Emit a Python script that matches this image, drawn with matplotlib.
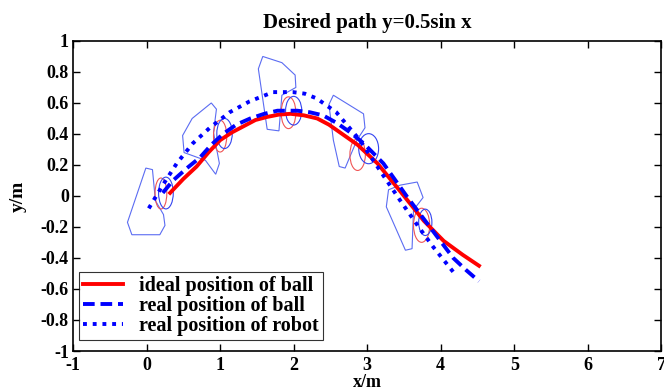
"""
Desired path y=0.5sin x : ball and robot positions
"""

### Import modules
import numpy as np
import matplotlib
matplotlib.use('Agg')
import matplotlib.pyplot as plt
from matplotlib.patches import Polygon, Ellipse

### Data (metres)
x_ideal = [0.32, 0.50, 0.68, 0.84, 1.00, 1.16, 1.32, 1.48, 1.64, 1.80, 1.96,
           2.14, 2.32, 2.48, 2.63, 2.87, 3.14, 3.45, 3.77, 4.04, 4.30, 4.52]
y_ideal = [0.02, 0.11, 0.19, 0.28, 0.36, 0.41, 0.45, 0.49, 0.51, 0.525, 0.53,
           0.52, 0.50, 0.46, 0.41, 0.33, 0.21, 0.03, -0.16, -0.29, -0.38, -0.45]

x_ball = [0.22, 0.36, 0.55, 0.73, 0.88, 1.04, 1.22, 1.41, 1.60, 1.78, 2.05,
          2.22, 2.40, 2.59, 2.77, 2.95, 3.22, 3.55, 3.90, 4.17, 4.35, 4.52]
y_ball = [0.02, 0.10, 0.18, 0.25, 0.33, 0.40, 0.46, 0.50, 0.53, 0.55, 0.55,
          0.54, 0.52, 0.47, 0.41, 0.34, 0.21, -0.01, -0.23, -0.40, -0.48, -0.55]

x_robot = [0.03, 0.22, 0.41, 0.63, 0.86, 1.13, 1.40, 1.72, 1.99, 2.15, 2.31,
           2.58, 2.90, 3.18, 3.45, 3.70, 3.90, 4.17]
y_robot = [-0.08, 0.07, 0.21, 0.34, 0.44, 0.54, 0.61, 0.67, 0.67, 0.66, 0.63,
           0.54, 0.36, 0.16, -0.03, -0.20, -0.33, -0.49]

# robot outlines at five sampled instants
robots = [
    [(-0.01, 0.18), (0.08, 0.17), (0.12, -0.03), (0.23, -0.12), (0.25, -0.19),
     (0.18, -0.25), (-0.20, -0.25), (-0.26, -0.17)],
    [(0.88, 0.60), (0.95, 0.56), (0.91, 0.41), (0.99, 0.21), (0.94, 0.14),
     (0.80, 0.23), (0.51, 0.28), (0.49, 0.39), (0.62, 0.50)],
    [(1.58, 0.90), (1.84, 0.86), (2.02, 0.78), (2.03, 0.70), (1.84, 0.65),
     (1.80, 0.42), (1.64, 0.43), (1.52, 0.82)],
    [(2.54, 0.65), (2.95, 0.53), (2.97, 0.44), (2.86, 0.36), (2.70, 0.18),
     (2.62, 0.19), (2.54, 0.36), (2.48, 0.59)],
    [(3.29, 0.04), (3.45, 0.07), (3.68, 0.09), (3.76, -0.01), (3.63, -0.09),
     (3.61, -0.34), (3.52, -0.35), (3.26, -0.07)],
]
# ellipses: centre x, centre y, width, height
ideal_ell = [(0.195, 0.016, 0.16, 0.20), (1.00, 0.386, 0.18, 0.205),
             (1.93, 0.537, 0.20, 0.205), (2.87, 0.267, 0.21, 0.205),
             (3.74, -0.189, 0.22, 0.22)]
real_ell = [(0.263, 0.019, 0.20, 0.205), (1.06, 0.403, 0.21, 0.194),
            (2.00, 0.55, 0.22, 0.185), (3.02, 0.305, 0.27, 0.194),
            (3.79, -0.17, 0.18, 0.17)]

xticks = np.arange(-1, 8, 1)
yticks = np.round(np.arange(-1, 1.01, 0.2), 1) + 0.0

### Plot
plt.rcParams['font.family'] = ['Liberation Serif', 'DejaVu Serif']
plt.rcParams['font.weight'] = 'bold'

fig = plt.figure(figsize=(6.64, 3.9), dpi=100)
ax = fig.add_axes([0.110, 0.100, 0.886, 0.795])

for pts in robots:
    ax.add_patch(Polygon(pts, closed=True, fill=False, edgecolor='#5b6cf2',
                         linewidth=0.8))
for cx, cy, w, h in ideal_ell:
    ax.add_patch(Ellipse((cx, cy), w, h, fill=False, edgecolor='#f05555',
                         linewidth=0.8))
for cx, cy, w, h in real_ell:
    ax.add_patch(Ellipse((cx, cy), w, h, fill=False, edgecolor='#3344f0',
                         linewidth=0.8))

ax.plot(x_ideal, y_ideal, '-', color='red', linewidth=2.8,
        label='ideal position of ball')
ax.plot(x_ball, y_ball, '--', color='blue', linewidth=2.8, dashes=(3, 1.5),
        label='real position of ball')
ax.plot(x_robot, y_robot, ':', color='blue', linewidth=2.8, dashes=(1, 1.5),
        label='real position of robot')

ax.set_xlim(-1, 7)
ax.set_ylim(-1, 1)
ax.set_xticks(xticks)
ax.set_yticks(yticks)
ax.set_xticklabels(['%g' % t for t in xticks])
ax.set_yticklabels(['%g' % (t if abs(t) > 1e-9 else 0) for t in yticks])
ax.tick_params(direction='in', top=True, right=True, length=5, width=1,
               labelsize=13)
ax.tick_params(axis='x', pad=4)
ax.tick_params(axis='y', pad=3)
for s in ax.spines.values():
    s.set_linewidth(1.2)

ax.set_title('Desired path y=0.5sin x', fontsize=15, fontweight='bold', pad=9)
ax.set_xlabel('x/m', fontsize=13, fontweight='bold', labelpad=0)
ax.set_ylabel('y/m', fontsize=14, fontweight='bold', labelpad=10)

leg = ax.legend(loc='lower left', bbox_to_anchor=(0.010, 0.035), fontsize=14.5,
                frameon=True, fancybox=False, edgecolor='black',
                handlelength=2.0, borderpad=0.2, labelspacing=0.0,
                borderaxespad=0.0, handletextpad=0.8)
leg.get_frame().set_linewidth(0.8)

plt.savefig('out.png', dpi=100)
